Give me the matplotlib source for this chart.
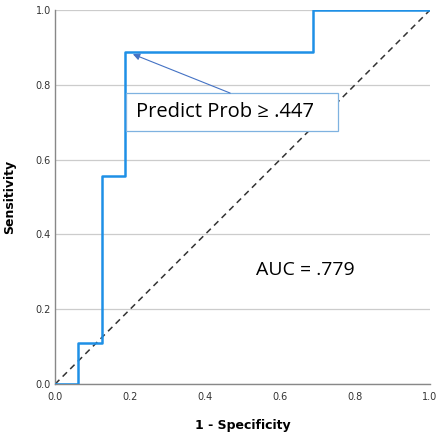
import numpy as np
import matplotlib
matplotlib.use("Agg")
import matplotlib.pyplot as plt
from matplotlib.patches import Rectangle

# ROC steps (1 - specificity, sensitivity)
fpr = [0.0, 0.0625, 0.0625, 0.125, 0.125, 0.1875, 0.1875, 0.6875, 0.6875, 1.0]
tpr = [0.0, 0.0, 0.111, 0.111, 0.556, 0.556, 0.889, 0.889, 1.0, 1.0]
ticks = [0.0, 0.2, 0.4, 0.6, 0.8, 1.0]
tick_labels = ["0.0", "0.2", "0.4", "0.6", "0.8", "1.0"]
cut_point = (0.1875, 0.889)
cut_text = "Predict Prob \u2265 .447"
auc_text = "AUC = .779"

fig = plt.figure(figsize=(4.37, 4.36), dpi=100)
ax = fig.add_axes([0.126, 0.119, 0.858, 0.858])

ax.plot([0, 1], [0, 1], color="#333333", ls=(0, (4, 3)), lw=1.1, zorder=2)
ax.plot(fpr, tpr, color="#1e90e6", lw=1.8, zorder=3)

ax.set_xlim(0, 1)
ax.set_ylim(0, 1)
ax.set_xticks(ticks, tick_labels)
ax.set_yticks(ticks, tick_labels)
ax.tick_params(labelsize=7, length=0, colors="#333333")
ax.tick_params(axis="x", pad=6)
ax.tick_params(axis="y", pad=3)
ax.yaxis.grid(True, color="#cccccc", lw=0.9)
ax.set_axisbelow(True)
for s in ["top", "right"]:
    ax.spines[s].set_visible(False)
for s in ["left", "bottom"]:
    ax.spines[s].set_color("#888888")
    ax.spines[s].set_linewidth(1.0)

ax.set_xlabel("1 - Specificity", fontsize=9, fontweight="bold", labelpad=12)
ax.set_ylabel("Sensitivity", fontsize=9, fontweight="bold", labelpad=14)

# callout box for the cut point
ax.add_patch(Rectangle((0.19, 0.676), 0.565, 0.102, fc="white", ec="#7fb2e0",
                       lw=0.9, zorder=4))
ax.text(0.215, 0.727, cut_text, fontsize=14.5, family="Open Sans",
        ha="left", va="center", zorder=5)
ax.annotate("", xy=(cut_point[0] + 0.02, cut_point[1] - 0.007),
            xytext=(0.467, 0.778),
            arrowprops=dict(arrowstyle="-|>", color="#4472c4", lw=0.8,
                            mutation_scale=10, shrinkA=0, shrinkB=0), zorder=5)

ax.text(0.667, 0.305, auc_text, fontsize=14, family="Open Sans",
        ha="center", va="center")

fig.savefig("out.png", dpi=100)
